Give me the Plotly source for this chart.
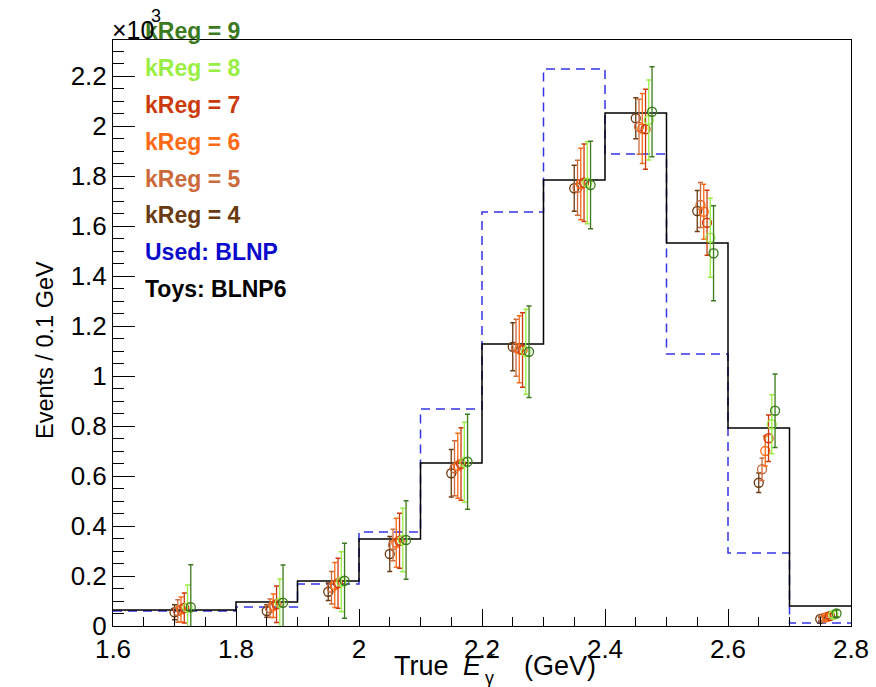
import plotly.graph_objects as go

# Bin edges of the true photon-energy spectrum (GeV)
edges = [1.6, 1.8, 1.9, 2.0, 2.1, 2.2, 2.3, 2.4, 2.5, 2.6, 2.7, 2.8]

# Reference spectra (events / 0.1 GeV)
toys_blnp6 = [64, 96, 180, 348, 652, 1128, 1784, 2052, 1532, 792, 80]
used_blnp = [60, 76, 168, 376, 868, 1656, 2228, 1888, 1088, 292, 12]

# Unfolded results for each regularisation parameter (events / 0.1 GeV)
kreg_labels = ["kReg = 4", "kReg = 5", "kReg = 6", "kReg = 7", "kReg = 8", "kReg = 9"]
kreg_colors = ["#6a3a10", "#cc6a3c", "#ff6a14", "#cc3a0a", "#99ee44", "#3d7a1e"]
kreg_values = [
    [55, 60, 137, 288, 611, 1117, 1751, 2031, 1660, 573, 28],
    [60, 71, 153, 324, 631, 1113, 1753, 1997, 1684, 627, 32],
    [66, 81, 164, 333, 641, 1107, 1768, 1990, 1657, 700, 36],
    [72, 87, 171, 341, 648, 1104, 1773, 1987, 1613, 751, 40],
    [74, 93, 177, 344, 655, 1097, 1773, 2024, 1553, 807, 45],
    [75, 93, 181, 344, 657, 1097, 1764, 2057, 1491, 861, 50],
]
kreg_errors = [
    [30, 25, 35, 70, 95, 96, 92, 82, 82, 39, 8],
    [45, 37, 65, 63, 110, 114, 110, 110, 90, 45, 9],
    [50, 47, 90, 98, 130, 134, 143, 140, 110, 60, 10],
    [60, 73, 100, 110, 145, 149, 155, 160, 130, 93, 11],
    [90, 95, 120, 127, 160, 170, 164, 160, 158, 118, 12],
    [170, 151, 150, 157, 190, 183, 175, 180, 190, 147, 14],
]
point_shift = 0.0053  # horizontal offset between successive kReg points

SCALE = 1e-3  # axis drawn in units of 10^3 events
FONT = "Liberation Sans, Arial, Helvetica, sans-serif"

centers = [(a + b) / 2 for a, b in zip(edges[:-1], edges[1:])]

fig = go.Figure()

def step_trace(vals, color, dash):
    ys = [v * SCALE for v in vals] + [vals[-1] * SCALE]
    return go.Scatter(x=edges, y=ys, mode="lines", line_shape="hv",
                      line=dict(color=color, width=1.5, dash=dash),
                      showlegend=False, hoverinfo="skip")

fig.add_trace(step_trace(used_blnp, "#3434e8", "9px,6px"))
fig.add_trace(step_trace(toys_blnp6, "black", "solid"))

for i, (vals, errs, col) in enumerate(zip(kreg_values, kreg_errors, kreg_colors)):
    fig.add_trace(go.Scatter(
        x=[c + i * point_shift for c in centers],
        y=[v * SCALE for v in vals],
        mode="markers",
        marker=dict(symbol="circle-open", size=9, color=col, line=dict(width=1.3, color=col)),
        error_y=dict(type="data", array=[e * SCALE for e in errs], visible=True,
                     color=col, thickness=1.3, width=2.5),
        showlegend=False, name=kreg_labels[i],
    ))

# Plot frame geometry (pixels)
W, H = 876, 687
L, R, T, B = 113, 25, 40, 61
pw, ph = W - L - R, H - T - B

def px_x(x):
    return (x - L) / pw

def px_y(y):
    return (H - B - y) / ph

def label(x, y, text, size, color="black", xanchor="left", angle=0):
    return dict(x=px_x(x), y=px_y(y), xref="paper", yref="paper",
                xanchor=xanchor, yanchor="middle", showarrow=False, textangle=angle,
                text=text, font=dict(family=FONT, size=size, color=color))

annotations = []
legend_items = [(lab, col) for lab, col in zip(kreg_labels, kreg_colors)][::-1]
legend_items += [("Used: BLNP", "#0a0acc"), ("Toys: BLNP6", "black")]
for j, (txt, col) in enumerate(legend_items):
    annotations.append(label(143, 31 + 36.9 * j, "<b>%s</b>" % txt, 23, col))

# exponent of the y axis
annotations.append(label(110, 30, "×10", 25))
annotations.append(label(149, 16, "3", 18))

# x-axis title: True E*_gamma (GeV)
annotations.append(label(392, 666, "True", 27))
annotations.append(label(461, 666, "<i>E</i>", 27))
annotations.append(label(486, 659, "*", 18))
annotations.append(label(483, 678, "γ", 18))
annotations.append(label(598, 666, "(GeV)", 27, xanchor="right"))

# y-axis title
annotations.append(label(45, 350, "Events / 0.1 GeV", 23.5, xanchor="center", angle=-90))

fig.update_layout(
    width=W, height=H,
    margin=dict(l=L, r=R, t=T, b=B, pad=0, autoexpand=False),
    plot_bgcolor="white", paper_bgcolor="white",
    font=dict(family=FONT, size=26, color="black"),
    annotations=annotations,
    xaxis=dict(range=[1.6, 2.8], dtick=0.2, tick0=1.6, ticks="inside", ticklen=17,
               tickcolor="black", tickformat="~g", automargin=False,
               minor=dict(dtick=0.05, ticks="inside", ticklen=9, tickcolor="black"),
               showline=True, linecolor="black", linewidth=1, mirror=True,
               showgrid=False, zeroline=False),
    yaxis=dict(range=[0, 2.344], dtick=0.2, tick0=0, ticks="inside", ticklen=22,
               tickcolor="black", tickformat="~g", automargin=False,
               minor=dict(dtick=0.05, ticks="inside", ticklen=11, tickcolor="black"),
               showline=True, linecolor="black", linewidth=1, mirror=True,
               showgrid=False, zeroline=False),
)

fig.write_html("out.html")
